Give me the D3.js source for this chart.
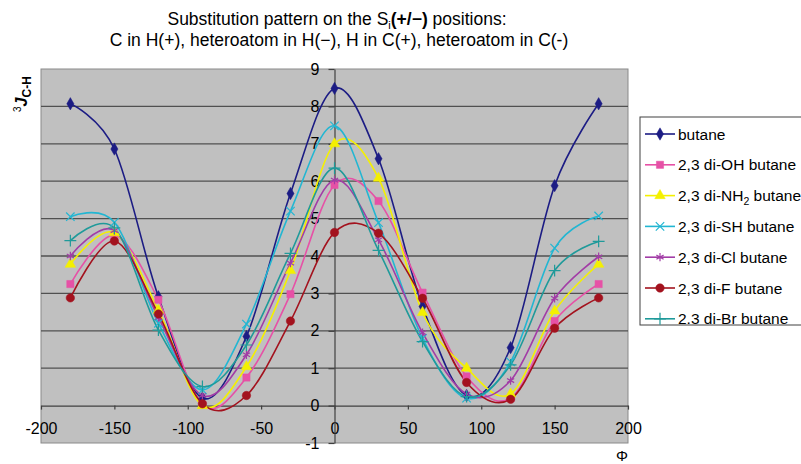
<!DOCTYPE html>
<html>
<head>
<meta charset="utf-8">
<script src="https://cdn.jsdelivr.net/npm/d3@7"></script>
<style>
 body { margin: 0; background: #fff; }
 text { font-family: "Liberation Sans", Arial, sans-serif; fill: #000; }
</style>
</head>
<body>
<div id="chart"></div>
<script>
// dihedral angle (deg)
const phi = [-180, -150, -120, -90, -60, -30, 0, 30, 60, 90, 120, 150, 180];

const butane = [8.07, 6.86, 2.91, 0.2, 1.85, 5.67, 8.48, 6.6, 2.65, 0.27, 1.55, 5.88, 8.07];
const diOH = [3.25, 4.55, 2.83, 0.02, 0.75, 2.98, 5.9, 5.47, 3.02, 0.78, 0.2, 2.26, 3.25];
const diNH2 = [3.78, 4.62, 2.55, 0.0, 1.04, 3.61, 7.0, 6.08, 2.49, 1.0, 0.31, 2.53, 3.78];
const diSH = [5.05, 4.9, 2.2, 0.42, 2.18, 5.2, 7.48, 4.89, 1.8, 0.2, 1.17, 4.21, 5.07];
const diCl = [4.0, 4.68, 2.35, 0.27, 1.36, 3.81, 6.03, 4.43, 1.95, 0.31, 0.67, 2.87, 3.98];
const diF = [2.88, 4.4, 2.45, 0.05, 0.27, 2.26, 4.63, 4.61, 2.87, 0.62, 0.17, 2.07, 2.88];
const diBr = [4.41, 4.75, 2.02, 0.51, 1.62, 4.07, 6.35, 4.15, 1.71, 0.24, 1.09, 3.61, 4.39];

const xTicks = [-200, -150, -100, -50, 0, 50, 100, 150, 200];
const yTicks = [-1, 0, 1, 2, 3, 4, 5, 6, 7, 8, 9];

const series = [
 { name: "butane", values: butane, color: "#1c1c84", symbol: d3.symbolDiamond, size: 44, fill: true },
 { name: "2,3 di-OH butane", values: diOH, color: "#e651a6", symbol: d3.symbolSquare, size: 52, fill: true },
 { name: "2,3 di-NH2 butane", values: diNH2, color: "#f4f000", symbol: d3.symbolTriangle, size: 48, fill: true },
 { name: "2,3 di-SH butane", values: diSH, color: "#22b6d2", symbol: d3.symbolTimes, size: 48, fill: false },
 { name: "2,3 di-Cl butane", values: diCl, color: "#a23ca6", symbol: d3.symbolAsterisk, size: 48, fill: false },
 { name: "2,3 di-F butane", values: diF, color: "#a3121e", symbol: d3.symbolCircle, size: 56, fill: true },
 { name: "2.3 di-Br butane", values: diBr, color: "#1f9a9a", symbol: d3.symbolPlus, size: 48, fill: false },
];

const W = 801, H = 464;
const plot = { left: 41, top: 69, right: 628, bottom: 443 };

const svg = d3.select("#chart").append("svg").attr("width", W).attr("height", H);

const x = d3.scaleLinear().domain([-200, 200]).range([plot.left, plot.right]);
const y = d3.scaleLinear().domain([-1, 9]).range([plot.bottom, plot.top]);

// plot area
svg.append("rect")
 .attr("x", plot.left).attr("y", plot.top)
 .attr("width", plot.right - plot.left).attr("height", plot.bottom - plot.top)
 .attr("fill", "#c0c0c0").attr("stroke", "#8a8a8a").attr("stroke-width", 1);

// gridlines
svg.append("g").selectAll("line")
 .data(yTicks.filter((d) => d > 0 && d < 9))
 .enter().append("line")
 .attr("x1", plot.left).attr("x2", plot.right)
 .attr("y1", (d) => y(d)).attr("y2", (d) => y(d))
 .attr("stroke", "#505050").attr("stroke-width", 1.3);

// x axis sitting on y = 0, y axis at x = 0 (plain hyphen for negatives)
const fmt = (d) => String(d);

const xAxis = svg.append("g")
 .attr("transform", `translate(0,${y(0)})`)
 .call(d3.axisBottom(x).tickValues(xTicks).tickFormat(fmt).tickSize(4).tickPadding(13).tickSizeOuter(0));

const yAxis = svg.append("g")
 .attr("transform", `translate(${x(0)},0)`)
 .call(d3.axisLeft(y).tickValues(yTicks).tickFormat(fmt).tickSize(6).tickPadding(9).tickSizeOuter(0));

[xAxis, yAxis].forEach((g) => {
 g.select(".domain").attr("stroke", "#404040").attr("stroke-width", 1.2);
 g.selectAll(".tick line").attr("stroke", "#404040").attr("stroke-width", 1.2);
 g.selectAll(".tick text").attr("font-size", 16).attr("fill", "#000")
  .attr("font-family", "'Liberation Sans', Arial, sans-serif");
});

// curves
const line = d3.line()
 .x((d) => x(d[0]))
 .y((d) => y(d[1]))
 .curve(d3.curveCatmullRom.alpha(0));

const gSeries = svg.append("g");
series.forEach((s) => {
 const pts = phi.map((p, i) => [p, s.values[i]]);
 gSeries.append("path")
  .attr("d", line(pts))
  .attr("fill", "none")
  .attr("stroke", s.color)
  .attr("stroke-width", 1.6);
});
series.forEach((s) => {
 const pts = phi.map((p, i) => [p, s.values[i]]);
 gSeries.append("g").selectAll("path")
  .data(pts)
  .enter().append("path")
  .attr("transform", (d) => `translate(${x(d[0])},${y(d[1])})`)
  .attr("d", d3.symbol().type(s.symbol).size(s.size))
  .attr("fill", s.fill ? s.color : "none")
  .attr("stroke", s.color)
  .attr("stroke-width", s.fill ? 0.5 : 1.2);
});

// title
const title = svg.append("text")
 .attr("x", 337).attr("y", 25)
 .attr("text-anchor", "middle")
 .attr("font-size", 17.5);
title.append("tspan").text("Substitution pattern on the S");
title.append("tspan").attr("font-size", 11).attr("dy", 4).text("i");
title.append("tspan").attr("dy", -4).attr("font-weight", "bold").text("(+/\u2212)");
title.append("tspan").text(" positions:");

svg.append("text")
 .attr("x", 339).attr("y", 46)
 .attr("text-anchor", "middle")
 .attr("font-size", 17.5)
 .text("C in H(+), heteroatom in H(\u2212), H in C(+), heteroatom in C(-)");

// y label
const yl = svg.append("text")
 .attr("transform", "translate(27,112) rotate(-90)")
 .attr("font-size", 16);
yl.append("tspan").attr("font-size", 10).attr("dy", -6).text("3");
yl.append("tspan").attr("dy", 6).attr("font-style", "italic").attr("font-weight", "bold").text("J");
yl.append("tspan").attr("dy", 4).attr("font-size", 12).attr("font-weight", "bold").text("C-H");

// x label
svg.append("text")
 .attr("x", 622).attr("y", 461)
 .attr("text-anchor", "middle")
 .attr("font-size", 15)
 .text("\u03a6");

// legend
const legend = svg.append("g").attr("transform", "translate(640,117)");
legend.append("rect")
 .attr("width", 200).attr("height", 208)
 .attr("fill", "#fff").attr("stroke", "#404040").attr("stroke-width", 1);

const item = legend.selectAll(".item")
 .data(series)
 .enter().append("g")
 .attr("transform", (d, i) => `translate(0,${17 + i * 30.8})`);

item.append("line")
 .attr("x1", 5).attr("x2", 35)
 .attr("stroke", (d) => d.color).attr("stroke-width", 1.6);
item.append("path")
 .attr("transform", "translate(20,0)")
 .attr("d", (d) => d3.symbol().type(d.symbol).size(d.size)())
 .attr("fill", (d) => (d.fill ? d.color : "none"))
 .attr("stroke", (d) => d.color)
 .attr("stroke-width", (d) => (d.fill ? 0.5 : 1.2));

item.append("text")
 .attr("x", 38).attr("y", 5.5)
 .attr("font-size", 15.5)
 .each(function (d) {
  const t = d3.select(this);
  if (d.name.includes("NH2")) {
   t.append("tspan").text("2,3 di-NH");
   t.append("tspan").attr("font-size", 10.5).attr("dy", 4).text("2");
   t.append("tspan").attr("dy", -4).text(" butane");
  } else {
   t.text(d.name);
  }
 });
</script>
</body>
</html>
